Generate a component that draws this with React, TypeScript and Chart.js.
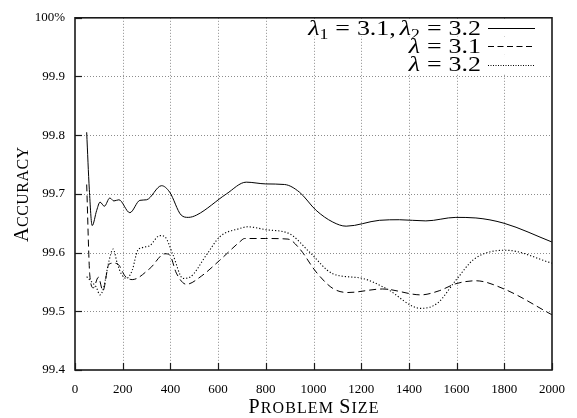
import React, { useEffect, useRef } from "react";
import { Chart, registerables } from "chart.js";

Chart.register(...registerables);

// ---- data ----
const xTicks = [0, 200, 400, 600, 800, 1000, 1200, 1400, 1600, 1800, 2000];
const yTicks = [99.4, 99.5, 99.6, 99.7, 99.8, 99.9, 100];

// lambda1 = 3.1, lambda2 = 3.2 (solid)
const bothX = [49, 60, 72, 91, 105, 123, 146, 163, 184, 230, 272, 300, 363, 397, 445, 475, 510, 635, 718, 800, 879, 941, 1011, 1081, 1137, 1276, 1360, 1471, 1597, 1681, 1799, 2000];
const bothY = [99.805, 99.708, 99.646, 99.672, 99.686, 99.679, 99.693, 99.688, 99.69, 99.668, 99.689, 99.69, 99.714, 99.703, 99.664, 99.66, 99.664, 99.7, 99.72, 99.717, 99.716, 99.703, 99.672, 99.652, 99.645, 99.655, 99.656, 99.654, 99.66, 99.659, 99.65, 99.618];

// lambda = 3.1 (dashed)
const l31X = [49, 62, 77, 98, 117, 142, 160, 181, 210, 240, 314, 377, 397, 425, 467, 530, 607, 690, 711, 800, 893, 941, 1011, 1081, 1144, 1290, 1450, 1527, 1597, 1681, 1799, 2000];
const l31Y = [99.716, 99.562, 99.54, 99.558, 99.535, 99.58, 99.582, 99.58, 99.56, 99.554, 99.573, 99.598, 99.596, 99.565, 99.546, 99.56, 99.587, 99.618, 99.624, 99.624, 99.623, 99.607, 99.567, 99.539, 99.532, 99.538, 99.528, 99.535, 99.547, 99.552, 99.538, 99.494];

// lambda = 3.2 (dotted)
const l32X = [49, 70, 88, 105, 120, 142, 160, 177, 195, 216, 240, 262, 286, 314, 356, 377, 411, 453, 481, 551, 607, 690, 725, 800, 900, 983, 1081, 1206, 1304, 1450, 1520, 1597, 1674, 1806, 2000];
const l32Y = [99.559, 99.55, 99.542, 99.528, 99.54, 99.585, 99.606, 99.582, 99.563, 99.556, 99.57, 99.603, 99.609, 99.612, 99.629, 99.627, 99.596, 99.556, 99.558, 99.596, 99.627, 99.641, 99.644, 99.639, 99.632, 99.601, 99.564, 99.556, 99.539, 99.505, 99.514, 99.553, 99.589, 99.604, 99.582];

const xTitle: [string, boolean][] = [["P", true], ["ROBLEM", false], [" ", false], ["S", true], ["IZE", false]];
const yTitle: [string, boolean][] = [["A", true], ["CCURACY", false]];

// legend tokens: [text, kind] kind: i=italic, s=subscript, n=normal, eq/comma = spacing
type Tok = [string, string];
const legendRows: Tok[][] = [
  [["λ", "i"], ["1", "s"], ["", "eq"], ["=", "n"], ["", "eq"], ["3.1,", "n"], ["", "comma"], ["λ", "i"], ["2", "s"], ["", "eq"], ["=", "n"], ["", "eq"], ["3.2", "n"]],
  [["λ", "i"], ["", "eq"], ["=", "n"], ["", "eq"], ["3.1", "n"]],
  [["λ", "i"], ["", "eq"], ["=", "n"], ["", "eq"], ["3.2", "n"]],
];
const legendDash: number[][] = [[], [6, 3.5], [1, 1.5]];

const SERIF = '"Liberation Serif", "Times New Roman", serif';

function pts(xs: number[], ys: number[]) {
  return xs.map((x, i) => ({ x, y: ys[i] }));
}

function drawCaps(ctx: CanvasRenderingContext2D, parts: [string, boolean][], big: number, small: number, target: number) {
  const chars: { c: string; size: number; w: number }[] = [];
  for (const [t, isBig] of parts) {
    for (const c of t) {
      const size = isBig ? big : small;
      ctx.font = `${size}px ${SERIF}`;
      chars.push({ c, size, w: ctx.measureText(c).width });
    }
  }
  const natural = chars.reduce((s, c) => s + c.w, 0);
  const sp = (target - natural) / (chars.length - 1);
  let x = -target / 2;
  for (const ch of chars) {
    ctx.font = `${ch.size}px ${SERIF}`;
    ctx.fillText(ch.c, x, 0);
    x += ch.w + sp;
  }
}

const framePlugin = {
  id: "frame",
  beforeDatasetsDraw(chart: any) {
    const { ctx, chartArea: a, scales } = chart;
    const xs = scales.x, ys = scales.y;
    ctx.save();
    ctx.strokeStyle = "#8c8c8c";
    ctx.lineWidth = 1;
    ctx.setLineDash([1, 2]);
    for (const v of xTicks.slice(1, -1)) {
      const px = Math.round(xs.getPixelForValue(v)) + 0.5;
      ctx.beginPath(); ctx.moveTo(px, a.top); ctx.lineTo(px, a.bottom); ctx.stroke();
    }
    for (const v of yTicks.slice(1, -1)) {
      const py = Math.round(ys.getPixelForValue(v)) + 0.5;
      ctx.beginPath(); ctx.moveTo(a.left, py); ctx.lineTo(a.right, py); ctx.stroke();
    }
    ctx.restore();
  },
  afterDatasetsDraw(chart: any) {
    const { ctx, chartArea: a, scales } = chart;
    const xs = scales.x, ys = scales.y;
    ctx.save();
    // border
    ctx.setLineDash([]);
    ctx.strokeStyle = "#1a1a1a";
    ctx.lineWidth = 1.6;
    ctx.strokeRect(a.left, a.top, a.right - a.left, a.bottom - a.top);
    // inward ticks
    ctx.lineWidth = 1.2;
    for (const v of xTicks) {
      const px = Math.round(xs.getPixelForValue(v)) + 0.5;
      ctx.beginPath(); ctx.moveTo(px, a.bottom); ctx.lineTo(px, a.bottom - 7); ctx.stroke();
    }
    for (const v of yTicks) {
      const py = Math.round(ys.getPixelForValue(v)) + 0.5;
      ctx.beginPath(); ctx.moveTo(a.left, py); ctx.lineTo(a.left + 7, py); ctx.stroke();
    }

    // legend
    const fs = 22;
    const gapEq = 7;
    const gapComma = 4;
    const sx = 1.18;
    const rightText = 481;
    const rowH = 18.3;
    const base0 = 34.5;
    const sampleL = 488, sampleR = 535;
    ctx.textBaseline = "alphabetic";
    ctx.textAlign = "left";
    legendRows.forEach((row, r) => {
      const base = base0 + r * rowH;
      const items = row.map(([t, k]) => {
        let font = `${fs}px ${SERIF}`;
        if (k === "i") font = `italic ${fs}px ${SERIF}`;
        if (k === "s") font = `${Math.round(fs * 0.7)}px ${SERIF}`;
        let w = 0;
        if (k === "eq") w = gapEq;
        else if (k === "comma") w = gapComma;
        else { ctx.font = font; w = ctx.measureText(t).width * sx; }
        return { t, k, font, w };
      });
      const total = items.reduce((s, it) => s + it.w, 0);
      let x = rightText - total;
      ctx.fillStyle = "#fff";
      ctx.fillRect(x - 1, base - 15, sampleR + 2 - (x - 1), 17);
      ctx.fillStyle = "#000";
      for (const it of items) {
        if (it.k !== "eq" && it.k !== "comma") {
          ctx.save();
          ctx.font = it.font;
          ctx.translate(x, base + (it.k === "s" ? 4 : 0));
          ctx.scale(sx, 1);
          ctx.fillText(it.t, 0, 0);
          ctx.restore();
        }
        x += it.w;
      }
      const ly = Math.round(base - 6.5) + 0.5;
      ctx.strokeStyle = "#000";
      ctx.lineWidth = 1;
      ctx.setLineDash(legendDash[r]);
      ctx.beginPath(); ctx.moveTo(sampleL, ly); ctx.lineTo(sampleR, ly); ctx.stroke();
    });
    ctx.setLineDash([]);

    // axis titles
    ctx.fillStyle = "#000";
    ctx.textAlign = "left";
    ctx.textBaseline = "alphabetic";
    ctx.save();
    ctx.translate((a.left + a.right) / 2, 413);
    drawCaps(ctx, xTitle, 20, 16, 130);
    ctx.restore();
    ctx.save();
    ctx.translate(28, (a.top + a.bottom) / 2 + 0.5);
    ctx.rotate(-Math.PI / 2);
    drawCaps(ctx, yTitle, 20, 16, 95);
    ctx.restore();
    ctx.restore();
  },
};

export default function App() {
  const ref = useRef<HTMLCanvasElement>(null);
  useEffect(() => {
    if (!ref.current) return;
    const tickFont = { family: SERIF, size: 13 };
    const chart = new Chart(ref.current, {
      type: "line",
      data: {
        datasets: [
          {
            label: "λ = 3.2",
            data: pts(l32X, l32Y),
            borderColor: "#000",
            borderWidth: 1.1,
            borderDash: [1.2, 2],
            pointRadius: 0,
            fill: false,
            cubicInterpolationMode: "monotone",
          },
          {
            label: "λ = 3.1",
            data: pts(l31X, l31Y),
            borderColor: "#000",
            borderWidth: 1,
            borderDash: [7, 4],
            pointRadius: 0,
            fill: false,
            cubicInterpolationMode: "monotone",
          },
          {
            label: "λ1 = 3.1, λ2 = 3.2",
            data: pts(bothX, bothY),
            borderColor: "#000",
            borderWidth: 1,
            pointRadius: 0,
            fill: false,
            cubicInterpolationMode: "monotone",
          },
        ],
      },
      options: {
        animation: false,
        responsive: false,
        layout: { padding: { left: 0, top: 13, right: 24, bottom: 0 } },
        plugins: { legend: { display: false }, tooltip: { enabled: false } },
        scales: {
          x: {
            type: "linear",
            min: 0,
            max: 2000,
            afterBuildTicks: (s: any) => { s.ticks = xTicks.map((v) => ({ value: v })); },
            afterFit: (s: any) => { s.height = 48; },
            grid: { display: false, drawTicks: false },
            border: { display: false },
            ticks: { font: tickFont, color: "#000", padding: 12, maxRotation: 0, autoSkip: false, callback: (v: any) => String(v) },
          },
          y: {
            type: "linear",
            min: 99.4,
            max: 100,
            afterBuildTicks: (s: any) => { s.ticks = yTicks.map((v) => ({ value: v })); },
            afterFit: (s: any) => { s.width = 75; },
            grid: { display: false, drawTicks: false },
            border: { display: false },
            ticks: {
              font: tickFont,
              color: "#000",
              padding: 10,
              autoSkip: false,
              callback: (v: any) => (Math.abs(Number(v) - 100) < 1e-6 ? "100%" : Number(v).toFixed(1)),
            },
          },
        },
      } as any,
      plugins: [framePlugin],
    });
    return () => chart.destroy();
  }, []);
  return (
    <div style={{ position: "absolute", left: 0, top: 0, width: 577, height: 418, background: "#fff" }}>
      <canvas ref={ref} width={577} height={418} style={{ display: "block" }} />
    </div>
  );
}
